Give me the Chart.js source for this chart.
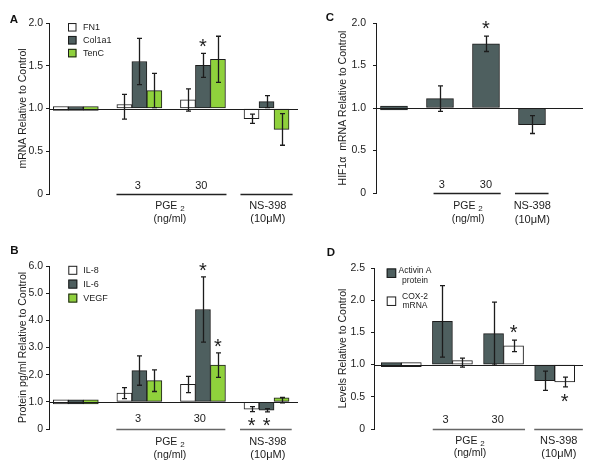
<!DOCTYPE html>
<html><head><meta charset="utf-8">
<script src="https://cdn.jsdelivr.net/npm/chart.js@4/dist/chart.umd.min.js"></script>
<style>
html,body{margin:0;padding:0;background:#fff;}
#wrap{position:relative;width:600px;height:473px;overflow:hidden;}
canvas{position:absolute;}
</style></head><body>
<div id="wrap">
<canvas id="cA" width="300" height="235" style="left:0;top:0"></canvas>
<canvas id="cC" width="300" height="235" style="left:300px;top:0"></canvas>
<canvas id="cB" width="300" height="238" style="left:0;top:235px"></canvas>
<canvas id="cD" width="300" height="238" style="left:300px;top:235px"></canvas>
</div>
<script>
// ---------- data ----------
const categories = ['Control', '3', '30', 'NS-398'];
const doseLabels = ['3', '30'];
const groupTitles = ['PGE', 'NS-398'];
const groupUnits = ['(ng/ml)', '(10\u03bcM)'];

// Panel A: mRNA
const seriesA = ['FN1', 'Col1a1', 'TenC'];
const fn1 = [1.0, 1.02, 1.10, 0.88];
const fn1Err = [0, 0.145, 0.13, 0.055];
const col1a1 = [1.0, 1.55, 1.505, 1.08];
const col1a1Err = [0, 0.27, 0.14, 0.07];
const tenC = [1.0, 1.21, 1.575, 0.755];
const tenCErr = [0, 0.20, 0.27, 0.185];
const ticksA = ['0', '0.5', '1.0', '1.5', '2.0'];
const starsA = [[1, 2, 1]];

// Panel B: protein
const seriesB = ['IL-8', 'IL-6', 'VEGF'];
const il8 = [1.0, 1.32, 1.64, 0.73];
const il8Err = [0, 0.20, 0.30, 0.09];
const il6 = [1.0, 2.15, 4.40, 0.69];
const il6Err = [0, 0.54, 1.20, 0.06];
const vegf = [1.0, 1.78, 2.35, 1.06];
const vegfErr = [0, 0.40, 0.45, 0.10];
const ticksB = ['0', '1.0', '2.0', '3.0', '4.0', '5.0', '6.0'];
const starsB = [[1, 2, 1], [2, 2, 1], [0, 3, -1], [1, 3, -1]];

// Panel C: HIF1a
const seriesC = ['HIF1\u03b1'];
const hif1a = [1.0, 1.11, 1.755, 0.805];
const hif1aErr = [0, 0.15, 0.09, 0.105];
const ticksC = ['0', '0.5', '1.0', '1.5', '2.0'];
const starsC = [[0, 2, 1]];

// Panel D: Activin A protein / COX-2 mRNA
const seriesD = [['Activin A', 'protein'], ['COX-2', 'mRNA']];
const activinA = [1.0, 1.67, 1.48, 0.75];
const activinAErr = [0, 0.555, 0.49, 0.15];
const cox2 = [1.0, 1.03, 1.29, 0.73];
const cox2Err = [0, 0.07, 0.09, 0.075];
const ticksD = ['0', '0.5', '1.0', '1.5', '2.0', '2.5'];
const starsD = [[1, 2, 1], [1, 3, -1]];

// ---------- style ----------
const FONT = "'Liberation Sans', Arial, Helvetica, sans-serif";
const INK = '#1c1c1c';
const SLATE = '#4e5f5f';
const GREEN = '#8fd13c';
const WHITE = '#ffffff';

function mkDataset(label, values, errors, color, thickness, legendLines) {
  return {
    label: label,
    legendLines: legendLines || [label],
    data: values.map((v, i) => ({ x: i, y: v })),
    errors: errors,
    base: 1,
    backgroundColor: color,
    borderColor: INK,
    borderWidth: 1,
    borderSkipped: false,
    barThickness: thickness,
    minBarLength: 4
  };
}

const PANELS = {};

const panelPlugin = {
  id: 'panelDeco',
  afterDatasetsDraw(chart) {
    const P = PANELS[chart.canvas.id];
    const ctx = chart.ctx, xs = chart.scales.x, ys = chart.scales.y, ca = chart.chartArea;
    const y0 = ys.getPixelForValue(0);
    ctx.save();
    // baseline at 1.0
    const yb = Math.round(ys.getPixelForValue(1)) + 0.5;
    ctx.strokeStyle = INK; ctx.lineWidth = 1;
    ctx.beginPath(); ctx.moveTo(ca.left, yb); ctx.lineTo(ca.right, yb); ctx.stroke();
    // error bars
    ctx.lineWidth = 1.3;
    chart.data.datasets.forEach((ds, di) => {
      const meta = chart.getDatasetMeta(di);
      meta.data.forEach((bar, i) => {
        const e = ds.errors[i];
        if (!e) return;
        const v = ds.data[i].y;
        const x = Math.round(bar.x) + 0.5;
        const yt = ys.getPixelForValue(v + e), yl = ys.getPixelForValue(v - e);
        ctx.beginPath();
        ctx.moveTo(x, yt); ctx.lineTo(x, yl);
        ctx.moveTo(x - P.cap, yt); ctx.lineTo(x + P.cap, yt);
        ctx.moveTo(x - P.cap, yl); ctx.lineTo(x + P.cap, yl);
        ctx.stroke();
      });
    });
    // significance stars
    ctx.fillStyle = INK;
    ctx.font = P.starSize + 'px ' + FONT;
    ctx.textAlign = 'center'; ctx.textBaseline = 'alphabetic';
    const m = ctx.measureText('*');
    const half = (m.actualBoundingBoxAscent - m.actualBoundingBoxDescent) / 2;
    P.stars.forEach(([di, i, dir]) => {
      const ds = chart.data.datasets[di];
      const bar = chart.getDatasetMeta(di).data[i];
      const v = ds.data[i].y, e = ds.errors[i];
      const yc = dir > 0 ? ys.getPixelForValue(v + e) - P.starGap : ys.getPixelForValue(v - e) + P.starGap;
      ctx.fillText('*', bar.x, yc + half);
    });
    // dose labels
    ctx.textBaseline = 'middle';
    ctx.font = '11px ' + FONT;
    doseLabels.forEach((t, k) => ctx.fillText(t, xs.getPixelForValue(P.dosePos[k]), y0 + P.doseDy));
    // brackets
    ctx.strokeStyle = P.bracketColor; ctx.lineWidth = 1.3;
    [P.pge, P.ns].forEach(([a, b]) => {
      ctx.beginPath();
      ctx.moveTo(xs.getPixelForValue(a), Math.round(y0) + 0.5);
      ctx.lineTo(xs.getPixelForValue(b), Math.round(y0) + 0.5);
      ctx.stroke();
    });
    // PGE2 with subscript
    const px = xs.getPixelForValue(P.pgeText);
    ctx.font = '10.5px ' + FONT;
    const w1 = ctx.measureText(groupTitles[0] + ' ').width;
    ctx.font = '8px ' + FONT;
    const w2 = ctx.measureText('2').width;
    const sx = px - (w1 + w2) / 2;
    ctx.textAlign = 'left';
    ctx.font = '10.5px ' + FONT;
    ctx.fillText(groupTitles[0] + ' ', sx, y0 + P.t1);
    ctx.font = '8px ' + FONT;
    ctx.fillText('2', sx + w1, y0 + P.t1 + 3);
    ctx.textAlign = 'center';
    ctx.font = '10.5px ' + FONT;
    ctx.fillText(groupUnits[0], px, y0 + P.t2);
    const nx = xs.getPixelForValue(P.nsText);
    ctx.font = '11px ' + FONT;
    ctx.fillText(groupTitles[1], nx, y0 + P.t1);
    ctx.fillText(groupUnits[1], nx, y0 + P.t2);
    // legend
    if (P.legend) {
      const L = P.legend;
      chart.data.datasets.forEach((ds, i) => {
        const cy = L.y[i];
        ctx.fillStyle = ds.backgroundColor;
        ctx.fillRect(L.x, cy - L.box / 2, L.box, L.box);
        ctx.strokeStyle = INK; ctx.lineWidth = 1;
        ctx.strokeRect(L.x + 0.5, cy - L.box / 2 + 0.5, L.box - 1, L.box - 1);
        ctx.fillStyle = INK;
        ctx.font = L.size + 'px ' + FONT;
        if (ds.legendLines.length === 1) {
          ctx.textAlign = 'left';
          ctx.fillText(ds.legendLines[0], L.tx, cy);
        } else {
          ctx.textAlign = 'center';
          ds.legendLines.forEach((ln, j) => ctx.fillText(ln, L.tcx, cy + L.lineOff[i][j]));
        }
      });
    }
    // panel letter
    ctx.fillStyle = '#111';
    ctx.textAlign = 'center'; ctx.textBaseline = 'middle';
    ctx.font = 'bold 11.5px ' + FONT;
    ctx.fillText(P.letter, P.letterX, P.letterY);
    ctx.restore();
  }
};

function makeChart(id, cfg) {
  PANELS[id] = cfg.panel;
  return new Chart(document.getElementById(id), {
    type: 'bar',
    data: { datasets: cfg.datasets },
    options: {
      responsive: false, animation: false, devicePixelRatio: 1, events: [],
      layout: { padding: cfg.padding },
      plugins: { legend: { display: false }, tooltip: { enabled: false } },
      scales: {
        x: { type: 'linear', display: false, min: cfg.xMin, max: cfg.xMax, offset: false },
        y: {
          min: 0, max: cfg.yMax,
          ticks: { stepSize: cfg.step, autoSkip: false, callback: (v, i) => cfg.tickLabels[i],
                   font: { family: FONT, size: 10.5 }, color: INK, padding: cfg.tickPad },
          grid: { drawOnChartArea: false, drawTicks: true, tickLength: 3, color: INK, lineWidth: 1 },
          border: { display: true, color: INK, width: 1 },
          title: { display: true, text: cfg.yTitle, font: { family: FONT, size: 10.5 }, color: INK,
                   padding: { top: cfg.titlePad, bottom: 0 } },
          afterFit: s => { s.width = cfg.axisX; }
        }
      }
    },
    plugins: [panelPlugin]
  });
}

// Panel A
makeChart('cA', {
  datasets: [
    mkDataset(seriesA[0], fn1, fn1Err, WHITE, 15),
    mkDataset(seriesA[1], col1a1, col1a1Err, SLATE, 15),
    mkDataset(seriesA[2], tenC, tenCErr, GREEN, 15)
  ],
  padding: { left: 0, top: 23, right: 2, bottom: 41 },
  axisX: 49, xMin: -0.4216, xMax: 3.495, yMax: 2, step: 0.5, tickLabels: ticksA, tickPad: 3,
  yTitle: 'mRNA Relative to Control', titlePad: 16.7,
  panel: {
    letter: 'A', letterX: 14, letterY: 19.5, cap: 2.5, starSize: 20, starGap: 10, stars: starsA,
    dosePos: [0.975, 1.975], doseDy: -8.5, pge: [0.64, 2.37], ns: [2.59, 3.41],
    pgeText: 1.48, nsText: 3.02, t1: 12, t2: 25, bracketColor: '#222',
    legend: { x: 68, y: [27.3, 40.2, 53.1], box: 8.5, tx: 83, size: 9 }
  }
});

// Panel C
makeChart('cC', {
  datasets: [ mkDataset(seriesC[0], hif1a, hif1aErr, SLATE, 27) ],
  padding: { left: 0, top: 23, right: 17, bottom: 42 },
  axisX: 76, xMin: -0.391, xMax: 4.109, yMax: 2, step: 0.5, tickLabels: ticksC, tickPad: 7,
  yTitle: 'HIF1\u03b1  mRNA Relative to Control', titlePad: 36.7,
  panel: {
    letter: 'C', letterX: 30, letterY: 18.3, cap: 2.5, starSize: 20, starGap: 11, stars: starsC,
    dosePos: [1.04, 2.0], doseDy: -8, pge: [0.86, 2.32], ns: [2.63, 3.36],
    pgeText: 1.61, nsText: 3.007, t1: 13, t2: 26.5, bracketColor: '#222',
    legend: null
  }
});

// Panel B
makeChart('cB', {
  datasets: [
    mkDataset(seriesB[0], il8, il8Err, WHITE, 15),
    mkDataset(seriesB[1], il6, il6Err, SLATE, 15),
    mkDataset(seriesB[2], vegf, vegfErr, GREEN, 15)
  ],
  padding: { left: 0, top: 31, right: 2, bottom: 44 },
  axisX: 49, xMin: -0.4216, xMax: 3.495, yMax: 6, step: 1, tickLabels: ticksB, tickPad: 3,
  yTitle: 'Protein pg/ml Relative to Control', titlePad: 16.4,
  panel: {
    letter: 'B', letterX: 14.3, letterY: 16.3, cap: 2.5, starSize: 20, starGap: 10, stars: starsB,
    dosePos: [0.98, 1.95], doseDy: -10.5, pge: [0.638, 2.352], ns: [2.583, 3.396],
    pgeText: 1.48, nsText: 3.02, t1: 13, t2: 26, bracketColor: '#666',
    legend: { x: 68.3, y: [35.3, 49.1, 63.1], box: 9, tx: 83.3, size: 9 }
  }
});

// Panel D
makeChart('cD', {
  datasets: [
    mkDataset(seriesD[0].join(' '), activinA, activinAErr, SLATE, 20, seriesD[0]),
    mkDataset(seriesD[1].join(' '), cox2, cox2Err, WHITE, 20, seriesD[1])
  ],
  padding: { left: 0, top: 33, right: 17, bottom: 44 },
  axisX: 74, xMin: -0.534, xMax: 3.554, yMax: 2.5, step: 0.5, tickLabels: ticksD, tickPad: 6,
  yTitle: 'Levels Relative to Control', titlePad: 37,
  panel: {
    letter: 'D', letterX: 31, letterY: 18, cap: 2.5, starSize: 20, starGap: 11, stars: starsD,
    dosePos: [0.868, 1.885], doseDy: -9, pge: [0.615, 2.42], ns: [2.6, 3.55],
    pgeText: 1.344, nsText: 3.08, t1: 12, t2: 24.5, bracketColor: '#666',
    legend: { x: 86.7, y: [38.2, 66.2], box: 9.5, tcx: 115, size: 8.5, lineOff: [[-3, 7], [-4.5, 4.5]] }
  }
});
</script>
</body></html>
